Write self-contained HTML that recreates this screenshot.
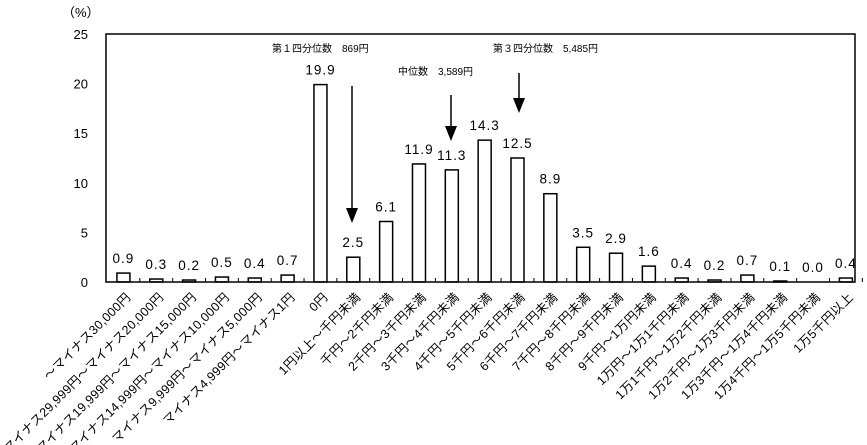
<!DOCTYPE html>
<html><head><meta charset="utf-8">
<style>
body{margin:0;background:#fff;}
svg{display:block;font-family:"Liberation Sans","Noto Sans CJK JP",sans-serif;}
</style></head>
<body>
<svg id="chart" width="867" height="445" viewBox="0 0 867 445">
<text x="62" y="17" font-size="13">（%）</text>
<g id="yaxis"></g>
<g id="bars"></g>
<g id="xlabels"></g>
<rect x="106" y="34" width="749" height="248" fill="none" stroke="#000" stroke-width="1.5"/>
<g font-size="10">
<text x="272" y="52">第１四分位数　869円</text>
<text x="398" y="75">中位数　3,589円</text>
<text x="493" y="52">第３四分位数　5,485円</text>
<line x1="352" y1="86" x2="352" y2="210" stroke="#000" stroke-width="1.5"/>
<polygon points="346,208 358,208 352,223"/>
<line x1="451" y1="95" x2="451" y2="128" stroke="#000" stroke-width="1.5"/>
<polygon points="445,126 457,126 451,141"/>
<line x1="519" y1="73" x2="519" y2="100" stroke="#000" stroke-width="1.5"/>
<polygon points="513,98 525,98 519,113"/>
</g>
</svg>
<script>
const categories=["～マイナス30,000円","マイナス29,999円～マイナス20,000円","マイナス19,999円～マイナス15,000円","マイナス14,999円～マイナス10,000円","マイナス9,999円～マイナス5,000円","マイナス4,999円～マイナス1円","0円","1円以上～千円未満","千円～2千円未満","2千円～3千円未満","3千円～4千円未満","4千円～5千円未満","5千円～6千円未満","6千円～7千円未満","7千円～8千円未満","8千円～9千円未満","9千円～1万円未満","1万円～1万1千円未満","1万1千円～1万2千円未満","1万2千円～1万3千円未満","1万3千円～1万4千円未満","1万4千円～1万5千円未満","1万5千円以上"];
const values=[0.9,0.3,0.2,0.5,0.4,0.7,19.9,2.5,6.1,11.9,11.3,14.3,12.5,8.9,3.5,2.9,1.6,0.4,0.2,0.7,0.1,0.0,0.4];
const yTicks=[0,5,10,15,20,25];
const NS="http://www.w3.org/2000/svg";
const X0=107,Y0=282,H=248,YMAX=25;
const bw=32.84;
function xc(i){return X0+bw*(i+0.5);}
function yv(v){return Y0-v/YMAX*H;}
function mk(t,a,p){const e=document.createElementNS(NS,t);for(const k in a)e.setAttribute(k,a[k]);p.appendChild(e);return e;}
const ya=document.getElementById('yaxis');
yTicks.forEach(t=>{
 const tx=mk('text',{x:88,y:yv(t)+5,'text-anchor':'end','font-size':13},ya);
 tx.textContent=t;
 
 
});
const bg=document.getElementById('bars');
const xl=document.getElementById('xlabels');
values.forEach((v,i)=>{
 const r=mk('rect',{x:xc(i)-6.5,y:yv(v),width:13,height:Y0-yv(v),fill:'#fff',stroke:'#000','stroke-width':1.5},bg);
 
 
 const t=mk('text',{x:xc(i),y:yv(v)-10,'text-anchor':'middle','font-size':13.5,'letter-spacing':'1'},bg);
 t.textContent=v.toFixed(1);
 
 
 const tk=mk('line',{x1:X0+bw*(i+1),x2:X0+bw*(i+1),y1:Y0,y2:Y0-4,stroke:'#000','stroke-width':1},bg);
 
 
 const lx=xc(i)+8,ly=Y0+16;
 const l=mk('text',{x:lx,y:ly,'text-anchor':'end','font-size':12.5,'letter-spacing':'0.3',transform:`rotate(-45 ${lx} ${ly})`},xl);
 l.textContent=categories[i];
 
 
});
</script>
</body></html>
